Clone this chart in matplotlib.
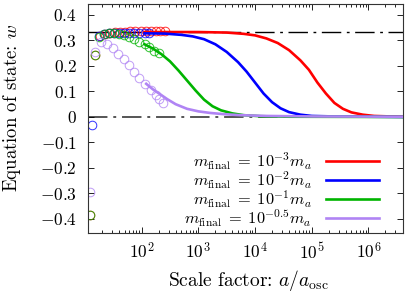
import numpy as np
import matplotlib
matplotlib.use("Agg")
import matplotlib.pyplot as plt
from matplotlib.ticker import FixedLocator, FixedFormatter, LogLocator, LogFormatterMathtext, NullFormatter

plt.rcParams["font.family"] = "serif"
plt.rcParams["font.serif"] = ["cmr10", "DejaVu Serif"]
plt.rcParams["mathtext.fontset"] = "cm"
plt.rcParams["axes.formatter.use_mathtext"] = True

# --- datos (log10 del factor de escala, w) ---
etiquetas = [r"$m_{\rm final}\;=\;10^{-3} m_a$",
             r"$m_{\rm final}\;=\;10^{-2} m_a$",
             r"$m_{\rm final}\;=\;10^{-1} m_a$",
             r"$m_{\rm final}\;=\;10^{-0.5} m_a$"]
colores = ["#ff0000", "#0000ff", "#00b400", "#b084f4"]

# simulacion (circulos)
rojo_pts_loga = [1.09, 1.18, 1.26, 1.35, 1.44, 1.53, 1.62, 1.71, 1.80, 1.89, 1.98, 2.07, 2.16, 2.25, 2.33, 2.41]
rojo_pts_w = [-0.385, 0.243, 0.316, 0.327, 0.331, 0.333, 0.334, 0.335, 0.336, 0.336, 0.337, 0.337, 0.337, 0.337, 0.337, 0.337]
azul_pts_loga = [1.13, 1.25, 1.34, 1.42, 1.51, 1.60, 1.69, 1.78, 1.87, 1.96, 2.05, 2.13]
azul_pts_w = [-0.031, 0.316, 0.324, 0.328, 0.330, 0.331, 0.331, 0.331, 0.331, 0.330, 0.330, 0.329]
verde_pts_loga = [1.09, 1.18, 1.25, 1.34, 1.42, 1.51, 1.60, 1.69, 1.78, 1.87, 1.96, 2.05, 2.13, 2.22, 2.30]
verde_pts_w = [-0.385, 0.243, 0.315, 0.324, 0.328, 0.328, 0.327, 0.322, 0.315, 0.306, 0.295, 0.285, 0.273, 0.260, 0.252]
lila_pts_loga = [1.09, 1.18, 1.28, 1.38, 1.49, 1.59, 1.69, 1.78, 1.87, 1.96, 2.06, 2.16, 2.25, 2.31, 2.38]
lila_pts_w = [-0.295, 0.256, 0.295, 0.286, 0.269, 0.247, 0.226, 0.204, 0.175, 0.152, 0.128, 0.106, 0.086, 0.070, 0.056]

# aproximacion (lineas)
rojo_loga = [2.05, 3.0, 3.5, 3.8, 4.0, 4.2, 4.4, 4.6, 4.8, 4.95, 5.1, 5.25, 5.4, 5.55, 5.7, 5.9, 6.1, 6.4, 6.65]
rojo_w = [0.333, 0.333, 0.331, 0.326, 0.320, 0.308, 0.290, 0.262, 0.222, 0.185, 0.135, 0.092, 0.055, 0.032, 0.018, 0.009, 0.004, 0.002, 0.001]
azul_loga = [2.05, 2.4, 2.7, 2.9, 3.1, 3.3, 3.5, 3.7, 3.85, 4.0, 4.15, 4.3, 4.45, 4.6, 4.8, 5.0, 5.4, 6.65]
azul_w = [0.328, 0.327, 0.322, 0.316, 0.305, 0.285, 0.255, 0.215, 0.178, 0.135, 0.092, 0.058, 0.034, 0.019, 0.009, 0.004, 0.002, 0.0]
verde_loga = [2.05, 2.2, 2.35, 2.5, 2.65, 2.8, 2.95, 3.1, 3.25, 3.4, 3.6, 3.8, 4.1, 4.6, 6.65]
verde_w = [0.285, 0.268, 0.246, 0.218, 0.182, 0.143, 0.104, 0.068, 0.042, 0.026, 0.014, 0.007, 0.003, 0.001, 0.0]
lila_loga = [2.08, 2.2, 2.32, 2.45, 2.6, 2.8, 3.0, 3.2, 3.45, 3.75, 4.2, 5.0, 6.65]
lila_w = [0.130, 0.108, 0.090, 0.070, 0.050, 0.032, 0.022, 0.016, 0.011, 0.007, 0.004, 0.002, 0.001]

w_radiacion = 1.0 / 3.0
w_materia = 0.0

puntos = [(rojo_pts_loga, rojo_pts_w), (azul_pts_loga, azul_pts_w),
          (verde_pts_loga, verde_pts_w), (lila_pts_loga, lila_pts_w)]
lineas = [(rojo_loga, rojo_w), (azul_loga, azul_w),
          (verde_loga, verde_w), (lila_loga, lila_w)]

fig = plt.figure(figsize=(4.07, 2.94), dpi=100)
ax = fig.add_axes([88 / 407, 1 - 233 / 294, 315 / 407, 229 / 294])

ax.axhline(w_radiacion, color="black", lw=1.0, dashes=[14, 4, 2, 4], zorder=1)
ax.axhline(w_materia, color="#555555", lw=1.4, dashes=[10, 3, 1.5, 3], zorder=1)

for (lx, wy), c in zip(puntos, colores):
    ax.plot(10 ** np.array(lx), wy, "o", ms=6.2, mfc="none", mec=c, mew=0.7, alpha=0.8, zorder=2)

for (lx, wy), c, lab in zip(lineas, colores, etiquetas):
    ax.plot(10 ** np.array(lx), wy, "-", color=c, lw=1.9, label=lab, zorder=3)

ax.set_xscale("log")
ax.set_xlim(10 ** 1.053, 10 ** 6.61)
ax.set_ylim(-0.455, 0.443)

yt = [-0.4, -0.3, -0.2, -0.1, 0.0, 0.1, 0.2, 0.3, 0.4]
ax.yaxis.set_major_locator(FixedLocator(yt))
ax.yaxis.set_major_formatter(FixedFormatter(["$%g$" % v for v in yt]))
ax.xaxis.set_major_locator(LogLocator(base=10, numticks=20))
ax.xaxis.set_minor_locator(LogLocator(base=10, subs=np.arange(2, 10), numticks=20))
ax.xaxis.set_major_formatter(LogFormatterMathtext())
ax.xaxis.set_minor_formatter(NullFormatter())

ax.tick_params(which="both", direction="in", top=True, right=True, labelsize=12.5, width=0.6)
ax.tick_params(axis="x", which="major", length=4.5, pad=6)
ax.tick_params(axis="x", which="minor", length=2.2)
ax.tick_params(axis="y", which="major", length=4.5, pad=8)
for s in ax.spines.values():
    s.set_linewidth(0.8)
    s.set_color("#333333")

ax.set_ylabel("Equation of state: $w$", fontsize=13.5)
ax.yaxis.set_label_coords(-0.205, 0.546)
ax.set_xlabel(r"Scale factor: $a/a_{\rm osc}$", fontsize=14)
ax.xaxis.set_label_coords(0.508, -0.155)

ax.legend(loc="lower right", bbox_to_anchor=(0.96, -0.032), frameon=False, markerfirst=False,
          fontsize=11.8, handlelength=3.25, handletextpad=0.85, labelspacing=-0.15, borderpad=0.2)

fig.savefig("out.png", dpi=100)
